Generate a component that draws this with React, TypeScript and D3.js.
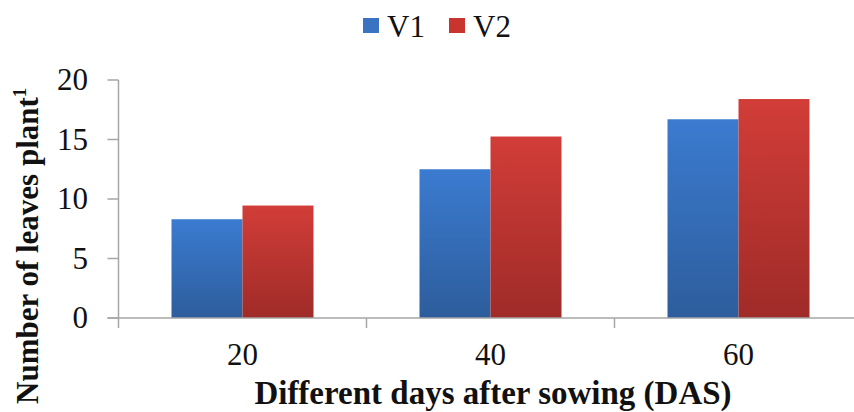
import React from "react";
import * as d3 from "d3";

const categories = ["20", "40", "60"];
const seriesNames = ["V1", "V2"];
const v1Values = [8.3, 12.5, 16.7];
const v2Values = [9.45, 15.25, 18.4];
const yTicks = [0, 5, 10, 15, 20];

const W = 854;
const H = 412;
const FONT =
  "'Liberation Serif', 'Times New Roman', Times, Tinos, 'Nimbus Roman', 'Nimbus Roman No9 L', FreeSerif, 'Noto Serif', 'DejaVu Serif', serif";

export default function App() {
  const plotLeft = 118.5;
  const step = 248;
  const plotRight = plotLeft + step * categories.length;
  const yScale = d3.scaleLinear().domain([0, 20]).range([318, 80]);
  const x0 = d3.scaleBand().domain(categories).range([plotLeft, plotRight]).paddingInner(0).paddingOuter(0);
  const bw = x0.bandwidth();
  const x1 = d3.scaleBand().domain(seriesNames).range([bw * 0.2137, bw * 0.7863]).padding(0);
  const valuesBySeries = [v1Values, v2Values];
  const grads = ["gBlue", "gRed"];
  const legendSwatch = ["#3a73c2", "#c9342f"];
  const axisColor = "#a6a6a6";
  const y0 = yScale(0);
  const legendX = [363, 449];
  const txt = { fontFamily: FONT } as React.CSSProperties;

  return (
    <svg
      width={W}
      height={H}
      style={{ position: "fixed", left: 0, top: 0, background: "#fff" }}
      xmlns="http://www.w3.org/2000/svg"
    >
      <defs>
        <linearGradient id="gBlue" x1="0" y1="0" x2="0" y2="1">
          <stop offset="0" stopColor="#3b7bd0" />
          <stop offset="1" stopColor="#2d5d9c" />
        </linearGradient>
        <linearGradient id="gRed" x1="0" y1="0" x2="0" y2="1">
          <stop offset="0" stopColor="#d23d38" />
          <stop offset="1" stopColor="#9f2b28" />
        </linearGradient>
      </defs>
      <rect x={0} y={0} width={W} height={H} fill="#fff" />

      {categories.map((c, i) =>
        seriesNames.map((s, j) => {
          const v = valuesBySeries[j][i];
          const x = (x0(c) as number) + (x1(s) as number);
          return (
            <rect
              key={c + s}
              x={x}
              y={yScale(v)}
              width={x1.bandwidth()}
              height={y0 - yScale(v)}
              fill={`url(#${grads[j]})`}
            />
          );
        })
      )}

      <line x1={plotLeft} x2={plotLeft} y1={yScale(20)} y2={y0 + 10} stroke={axisColor} strokeWidth={1.5} />
      {yTicks.map((t) => (
        <g key={t}>
          <line x1={plotLeft - 11} x2={plotLeft} y1={yScale(t)} y2={yScale(t)} stroke={axisColor} strokeWidth={1.5} />
          <text x={88} y={yScale(t) + 10} textAnchor="end" style={txt} fontSize={31} fill="#111">
            {t}
          </text>
        </g>
      ))}

      <line x1={plotLeft - 11} x2={plotRight} y1={y0} y2={y0} stroke={axisColor} strokeWidth={1.5} />
      {categories.map((c) => (
        <line
          key={"t" + c}
          x1={(x0(c) as number) + bw}
          x2={(x0(c) as number) + bw}
          y1={y0}
          y2={y0 + 10}
          stroke={axisColor}
          strokeWidth={1.5}
        />
      ))}
      {categories.map((c) => (
        <text key={"l" + c} x={(x0(c) as number) + bw / 2} y={365} textAnchor="middle" style={txt} fontSize={31} fill="#111">
          {c}
        </text>
      ))}

      <text x={493} y={404} textAnchor="middle" style={txt} fontSize={33} fontWeight="bold" fill="#111">
        Different days after sowing (DAS)
      </text>

      <text transform="translate(38,404) rotate(-90)" textAnchor="start" style={txt} fontSize={31} fontWeight="bold" fill="#111">
        Number of leaves plant
        <tspan fontSize={19} dy={-12}>1</tspan>
      </text>

      {seriesNames.map((s, j) => (
        <g key={"lg" + s}>
          <rect x={legendX[j]} y={18} width={16} height={15} fill={legendSwatch[j]} />
          <text x={legendX[j] + 24} y={37} style={txt} fontSize={31} fill="#111">
            {s}
          </text>
        </g>
      ))}
    </svg>
  );
}
